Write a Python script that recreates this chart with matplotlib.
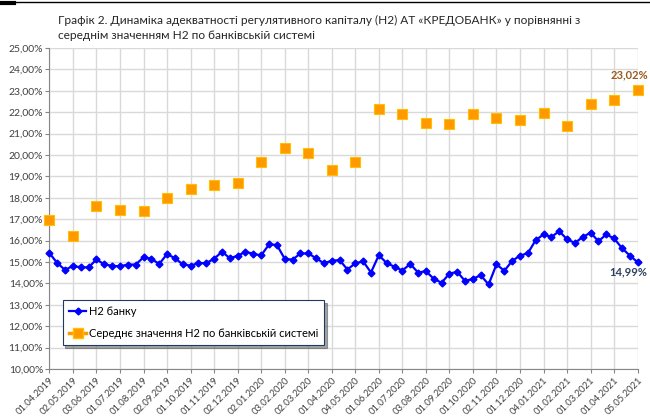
import numpy as np
import matplotlib.pyplot as plt
from matplotlib.lines import Line2D

plt.rcParams['font.family'] = ['Lato', 'DejaVu Sans']

# dates shown on the axis (every 3rd observation)
date_labels = ['01.04.2019', '02.05.2019', '03.06.2019', '01.07.2019', '01.08.2019', '02.09.2019',
               '01.10.2019', '01.11.2019', '02.12.2019', '02.01.2020', '03.02.2020', '02.03.2020',
               '01.04.2020', '04.05.2020', '01.06.2020', '01.07.2020', '03.08.2020', '01.09.2020',
               '01.10.2020', '02.11.2020', '01.12.2020', '04.01.2021', '01.02.2021', '01.03.2021',
               '01.04.2021', '05.05.2021']

# H2 of the bank, %
h2_bank = [15.42, 14.95, 14.63, 14.82, 14.75, 14.75, 15.12, 14.89, 14.82, 14.80,
           14.88, 14.88, 15.22, 15.15, 14.91, 15.37, 15.18, 14.89, 14.83, 14.95,
           14.95, 15.15, 15.48, 15.18, 15.29, 15.48, 15.38, 15.31, 15.82, 15.80,
           15.15, 15.11, 15.40, 15.40, 15.18, 14.94, 15.06, 15.09, 14.65, 14.94,
           15.03, 14.51, 15.32, 14.95, 14.78, 14.60, 14.91, 14.51, 14.57, 14.22,
           14.03, 14.46, 14.54, 14.11, 14.22, 14.38, 13.95, 14.89, 14.59, 15.05,
           15.30, 15.41, 16.02, 16.29, 16.17, 16.44, 16.06, 15.89, 16.17, 16.37,
           15.97, 16.29, 16.10, 15.65, 15.30, 14.99]

# average H2 in the banking system, %, monthly (on the labelled dates)
h2_system = [16.94, 16.20, 17.64, 17.45, 17.39, 17.98, 18.41, 18.58, 18.70, 19.66,
             20.31, 20.11, 19.28, 19.69, 22.16, 21.91, 21.50, 21.44, 21.91, 21.73,
             21.63, 21.97, 21.36, 22.37, 22.58, 23.02]

x_bank = np.arange(len(h2_bank))
x_sys = np.arange(0, len(h2_bank), 3)

fig = plt.figure(figsize=(6.5, 4.17), dpi=100)
ax = fig.add_axes([0.076, 0.115, 0.905, 0.77])

blue = '#0000FF'
orange = '#FF9900'

ax.plot(x_bank, h2_bank, color=blue, lw=1.6, marker='D', ms=3.5, zorder=3, clip_on=False)
ax.plot(x_sys, h2_system, ls='none', marker='s', ms=7, mfc=orange, mec='#FFC000', mew=0.8,
        zorder=3, clip_on=False)

ax.set_xlim(0, len(h2_bank) - 1)
ax.set_ylim(10, 25)
ax.set_yticks(np.arange(10, 25.01, 1))
ax.set_yticklabels([f'{v:.2f}%'.replace('.', ',') for v in np.arange(10, 25.01, 1)], fontsize=7.5, color='#404040')
ax.set_xticks(x_sys)
ax.set_xticklabels(date_labels, rotation=45, ha='right', rotation_mode='anchor', fontsize=6.8, color='#404040')

ax.grid(True, color='#D9D9D9', lw=1)
ax.set_axisbelow(True)
for s in ['top', 'right']:
    ax.spines[s].set_visible(False)
for s in ['left', 'bottom']:
    ax.spines[s].set_color('#868686')
ax.tick_params(axis='both', length=3, color='#868686', pad=1.5)

ax.annotate('23,02%', (x_sys[-1], h2_system[-1]), xytext=(-6, 7), textcoords='offset points',
            ha='center', va='bottom', fontsize=8, fontweight='bold', color='#9C5A1E')
ax.annotate('14,99%', (x_bank[-1], h2_bank[-1]), xytext=(-7, -3), textcoords='offset points',
            ha='center', va='top', fontsize=8, fontweight='bold', color='#2F4360')

handles = [Line2D([], [], color=blue, lw=1.6, marker='D', ms=3.5),
           Line2D([], [], color=orange, lw=2.5, marker='s', ms=7, mfc=orange, mec='#FFC000')]
leg = ax.legend(handles, ['Н2 банку', 'Середнє значення Н2 по банківській системі'],
                loc='upper left', bbox_to_anchor=(0.013, 0.232), fontsize=8, frameon=True,
                fancybox=False, shadow=True, handlelength=1.6, handletextpad=0.2,
                labelspacing=1.0, borderpad=0.55)
leg.get_frame().set_edgecolor('#1F3864')
leg.get_frame().set_linewidth(0.8)

fig.text(0.089, 0.965, 'Графік 2. Динаміка адекватності регулятивного капіталу (Н2) АТ «КРЕДОБАНК» у порівнянні з\n'
         'середнім значенням Н2 по банківській системі', ha='left', va='top', fontsize=8.6,
         color='#262626', linespacing=1.5)

fig.add_artist(Line2D([0, 1], [0.995, 0.995], color='black', lw=1))
fig.add_artist(Line2D([0, 0.022], [0.992, 0.992], color='black', lw=3))

fig.savefig('out.png', dpi=100)
